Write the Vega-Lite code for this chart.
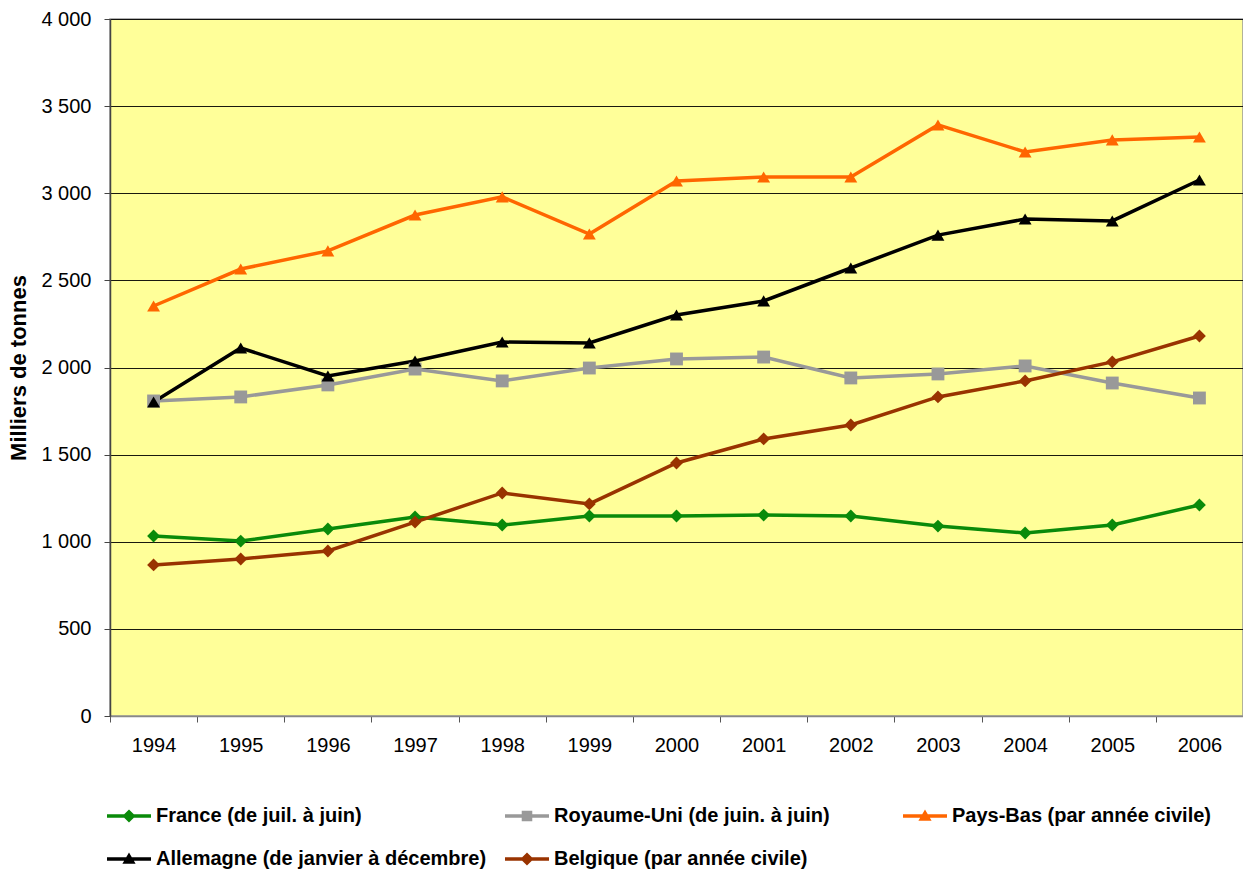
{
  "$schema": "https://vega.github.io/schema/vega-lite/v6.json",
  "autosize": {"type": "none"},
  "width": 1133,
  "height": 697,
  "padding": {"left": 110, "top": 19, "right": 0, "bottom": 159},
  "background": "white",
  "config": {
    "font": "Liberation Sans",
    "view": {"fill": "#FFFF99", "stroke": "#999999", "strokeWidth": 1.5},
    "axis": {"labelFont": "Liberation Sans", "titleFont": "Liberation Sans", "labelColor": "#000", "titleColor": "#000"}
  },
  "data": {"values": [
    {"year": "1994", "series": "France (de juil. à juin)", "value": 1033},
    {"year": "1995", "series": "France (de juil. à juin)", "value": 1004},
    {"year": "1996", "series": "France (de juil. à juin)", "value": 1073},
    {"year": "1997", "series": "France (de juil. à juin)", "value": 1142},
    {"year": "1998", "series": "France (de juil. à juin)", "value": 1096},
    {"year": "1999", "series": "France (de juil. à juin)", "value": 1148},
    {"year": "2000", "series": "France (de juil. à juin)", "value": 1148},
    {"year": "2001", "series": "France (de juil. à juin)", "value": 1153},
    {"year": "2002", "series": "France (de juil. à juin)", "value": 1148},
    {"year": "2003", "series": "France (de juil. à juin)", "value": 1090},
    {"year": "2004", "series": "France (de juil. à juin)", "value": 1050},
    {"year": "2005", "series": "France (de juil. à juin)", "value": 1096},
    {"year": "2006", "series": "France (de juil. à juin)", "value": 1211},
    {"year": "1994", "series": "Royaume-Uni (de juin. à juin)", "value": 1808},
    {"year": "1995", "series": "Royaume-Uni (de juin. à juin)", "value": 1831},
    {"year": "1996", "series": "Royaume-Uni (de juin. à juin)", "value": 1900},
    {"year": "1997", "series": "Royaume-Uni (de juin. à juin)", "value": 1991},
    {"year": "1998", "series": "Royaume-Uni (de juin. à juin)", "value": 1923},
    {"year": "1999", "series": "Royaume-Uni (de juin. à juin)", "value": 1997},
    {"year": "2000", "series": "Royaume-Uni (de juin. à juin)", "value": 2049},
    {"year": "2001", "series": "Royaume-Uni (de juin. à juin)", "value": 2060},
    {"year": "2002", "series": "Royaume-Uni (de juin. à juin)", "value": 1940},
    {"year": "2003", "series": "Royaume-Uni (de juin. à juin)", "value": 1963},
    {"year": "2004", "series": "Royaume-Uni (de juin. à juin)", "value": 2009},
    {"year": "2005", "series": "Royaume-Uni (de juin. à juin)", "value": 1911},
    {"year": "2006", "series": "Royaume-Uni (de juin. à juin)", "value": 1825},
    {"year": "1994", "series": "Pays-Bas (par année civile)", "value": 2353},
    {"year": "1995", "series": "Pays-Bas (par année civile)", "value": 2565},
    {"year": "1996", "series": "Pays-Bas (par année civile)", "value": 2669},
    {"year": "1997", "series": "Pays-Bas (par année civile)", "value": 2875},
    {"year": "1998", "series": "Pays-Bas (par année civile)", "value": 2979},
    {"year": "1999", "series": "Pays-Bas (par année civile)", "value": 2766},
    {"year": "2000", "series": "Pays-Bas (par année civile)", "value": 3070},
    {"year": "2001", "series": "Pays-Bas (par année civile)", "value": 3093},
    {"year": "2002", "series": "Pays-Bas (par année civile)", "value": 3093},
    {"year": "2003", "series": "Pays-Bas (par année civile)", "value": 3392},
    {"year": "2004", "series": "Pays-Bas (par année civile)", "value": 3237},
    {"year": "2005", "series": "Pays-Bas (par année civile)", "value": 3306},
    {"year": "2006", "series": "Pays-Bas (par année civile)", "value": 3323},
    {"year": "1994", "series": "Allemagne (de janvier à décembre)", "value": 1802},
    {"year": "1995", "series": "Allemagne (de janvier à décembre)", "value": 2112},
    {"year": "1996", "series": "Allemagne (de janvier à décembre)", "value": 1951},
    {"year": "1997", "series": "Allemagne (de janvier à décembre)", "value": 2037},
    {"year": "1998", "series": "Allemagne (de janvier à décembre)", "value": 2146},
    {"year": "1999", "series": "Allemagne (de janvier à décembre)", "value": 2141},
    {"year": "2000", "series": "Allemagne (de janvier à décembre)", "value": 2301},
    {"year": "2001", "series": "Allemagne (de janvier à décembre)", "value": 2382},
    {"year": "2002", "series": "Allemagne (de janvier à décembre)", "value": 2571},
    {"year": "2003", "series": "Allemagne (de janvier à décembre)", "value": 2760},
    {"year": "2004", "series": "Allemagne (de janvier à décembre)", "value": 2852},
    {"year": "2005", "series": "Allemagne (de janvier à décembre)", "value": 2841},
    {"year": "2006", "series": "Allemagne (de janvier à décembre)", "value": 3076},
    {"year": "1994", "series": "Belgique (par année civile)", "value": 867},
    {"year": "1995", "series": "Belgique (par année civile)", "value": 901},
    {"year": "1996", "series": "Belgique (par année civile)", "value": 947},
    {"year": "1997", "series": "Belgique (par année civile)", "value": 1113},
    {"year": "1998", "series": "Belgique (par année civile)", "value": 1280},
    {"year": "1999", "series": "Belgique (par année civile)", "value": 1217},
    {"year": "2000", "series": "Belgique (par année civile)", "value": 1452},
    {"year": "2001", "series": "Belgique (par année civile)", "value": 1590},
    {"year": "2002", "series": "Belgique (par année civile)", "value": 1670},
    {"year": "2003", "series": "Belgique (par année civile)", "value": 1831},
    {"year": "2004", "series": "Belgique (par année civile)", "value": 1923},
    {"year": "2005", "series": "Belgique (par année civile)", "value": 2032},
    {"year": "2006", "series": "Belgique (par année civile)", "value": 2181}
  ]},
  "encoding": {
    "x": {
      "field": "year", "type": "ordinal", "bandPosition": 0.5,
      "scale": {"type": "band", "paddingInner": 0, "paddingOuter": 0},
      "axis": {
        "title": null, "labelAngle": 0, "tickBand": "extent", "tickSize": 6,
        "tickColor": "#555555", "domainColor": "#888888", "domainWidth": 1.5,
        "labelFontSize": 20, "labelPadding": 13, "grid": false
      }
    },
    "y": {
      "field": "value", "type": "quantitative",
      "scale": {"domain": [0, 4000], "nice": false, "zero": true},
      "axis": {
        "title": "Milliers de tonnes", "titleFontSize": 22, "titleFontWeight": "bold",
        "titlePadding": 10,
        "values": [0, 500, 1000, 1500, 2000, 2500, 3000, 3500, 4000],
        "labelExpr": "replace(format(datum.value, ','), ',', ' ')",
        "labelFontSize": 20, "labelPadding": 13, "tickSize": 6, "tickColor": "#444444",
        "domainColor": "#444444", "domainWidth": 1.5,
        "grid": true, "gridColor": "#000000", "gridWidth": 1, "gridOpacity": 0.9
      }
    }
  },
  "resolve": {"scale": {"shape": "independent", "fill": "independent"}},
  "layer": [
    {
      "mark": {"type": "line", "strokeWidth": 3.5},
      "encoding": {
        "color": {
          "field": "series", "type": "nominal",
          "scale": {
            "domain": ["France (de juil. à juin)", "Royaume-Uni (de juin. à juin)", "Pays-Bas (par année civile)", "Allemagne (de janvier à décembre)", "Belgique (par année civile)"],
            "range": ["#0A8A0A", "#999999", "#FF6600", "#000000", "#993300"]
          },
          "legend": null
        }
      }
    },
    {
      "mark": {"type": "point", "filled": true, "size": 165, "opacity": 1},
      "encoding": {
        "color": {"field": "series", "type": "nominal", "legend": null},
        "shape": {
          "field": "series", "type": "nominal",
          "scale": {
            "domain": ["France (de juil. à juin)", "Royaume-Uni (de juin. à juin)", "Pays-Bas (par année civile)", "Allemagne (de janvier à décembre)", "Belgique (par année civile)"],
            "range": ["diamond", "square", "triangle-up", "triangle-up", "diamond"]
          },
          "legend": null
        }
      }
    },
    {
      "transform": [{"filter": "datum.value < 0"}],
      "mark": {"type": "point", "filled": true, "opacity": 1, "strokeWidth": 0},
      "encoding": {
        "fill": {
          "field": "series", "type": "nominal",
          "scale": {
            "domain": ["France (de juil. à juin)", "Royaume-Uni (de juin. à juin)", "Pays-Bas (par année civile)", "Allemagne (de janvier à décembre)", "Belgique (par année civile)"],
            "range": ["#0A8A0A", "#999999", "#FF6600", "#000000", "#993300"]
          },
          "legend": {
            "title": null, "orient": "none", "legendX": -3, "legendY": 775,
            "direction": "horizontal", "columns": 3, "gridAlign": "all",
            "columnPadding": 18, "rowPadding": 11,
            "labelFontSize": 20, "labelFontWeight": "bold", "labelColor": "#000000",
            "labelOffset": 5, "labelLimit": 500, "symbolSize": 1936, "symbolStrokeWidth": 0
          }
        },
        "shape": {
          "field": "series", "type": "nominal",
          "scale": {
            "domain": ["France (de juil. à juin)", "Royaume-Uni (de juin. à juin)", "Pays-Bas (par année civile)", "Allemagne (de janvier à décembre)", "Belgique (par année civile)"],
            "range": [
              "M-1,-0.08H1V0.08H-1Z M0,-0.3L0.3,0L0,0.3L-0.3,0Z",
              "M-1,-0.08H1V0.08H-1Z M-0.24,-0.24H0.24V0.24H-0.24Z",
              "M-1,-0.08H1V0.08H-1Z M0,-0.3L0.3,0.22L-0.3,0.22Z",
              "M-1,-0.08H1V0.08H-1Z M0,-0.3L0.3,0.22L-0.3,0.22Z",
              "M-1,-0.08H1V0.08H-1Z M0,-0.3L0.3,0L0,0.3L-0.3,0Z"
            ]
          },
          "legend": {
            "title": null, "orient": "none", "legendX": -3, "legendY": 775,
            "direction": "horizontal", "columns": 3, "gridAlign": "all",
            "columnPadding": 18, "rowPadding": 11,
            "labelFontSize": 20, "labelFontWeight": "bold", "labelColor": "#000000",
            "labelOffset": 5, "labelLimit": 500, "symbolSize": 1936, "symbolStrokeWidth": 0
          }
        }
      }
    }
  ]
}
